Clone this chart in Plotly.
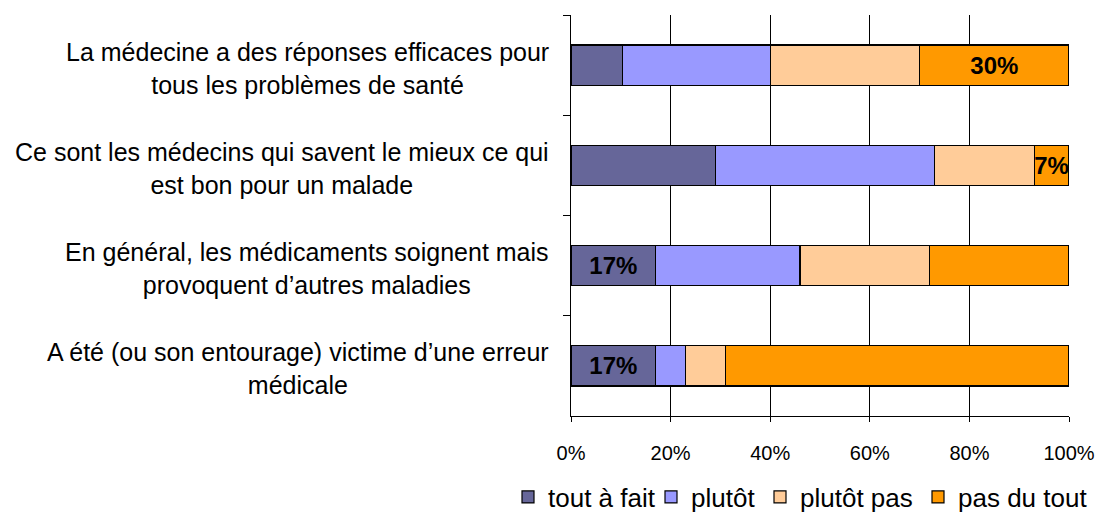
import plotly.graph_objects as go

# Statements (top to bottom)
statements = [
    "La médecine a des réponses efficaces pour<br>tous les problèmes de santé",
    "Ce sont les médecins qui savent le mieux ce qui<br>est bon pour un malade",
    "En général, les médicaments soignent mais<br>provoquent d’autres maladies",
    "A été (ou son entourage) victime d’une erreur<br>médicale",
]
keys = ["s1", "s2", "s3", "s4"]

# Answer shares (%) per statement
tout_a_fait = [10.3, 29, 17, 17]
plutot = [29.8, 44, 29, 6]
plutot_pas = [29.9, 20, 26, 8]
pas_du_tout = [30, 7, 28, 69]

series_names = ["tout à fait", "plutôt", "plutôt pas", "pas du tout"]
series_values = [tout_a_fait, plutot, plutot_pas, pas_du_tout]
series_colors = ["#666699", "#9999FF", "#FFCC99", "#FF9900"]
# Which segments carry a value label
labeled = [
    [False, False, True, True],
    [False, False, False, False],
    [False, False, False, False],
    [True, True, False, False],
]

x_ticks = [0, 20, 40, 60, 80, 100]
x_ticktext = [f"{t}%" for t in x_ticks]

FONT = "Liberation Sans, Arial, sans-serif"
W, H = 1097, 522

# Left edge (px) of each legend entry, one legend per series
legend_left = [508, 651, 760, 918]
legend_ids = ["legend", "legend2", "legend3", "legend4"]

fig = go.Figure()
for name, vals, color, show, lid in zip(series_names, series_values, series_colors, labeled, legend_ids):
    fig.add_trace(go.Bar(
        name=name,
        y=keys,
        x=vals,
        orientation="h",
        width=0.4,
        marker=dict(color=color, line=dict(color="black", width=1.2)),
        text=[f"{v:.0f}%" if s else "" for v, s in zip(vals, show)],
        textposition="inside",
        insidetextanchor="middle",
        constraintext="none",
        textangle=0,
        textfont=dict(family=FONT, size=24, color="black", weight="bold"),
        cliponaxis=False,
        hoverinfo="skip",
        legend=lid,
    ))

# Statement labels, centred line by line, left of the axis
for k, s in zip(keys, statements):
    fig.add_annotation(
        x=0, xref="paper", y=k, yref="y",
        text=s, showarrow=False,
        xanchor="right", yanchor="middle", align="center",
        xshift=-20, yshift=-3,
        font=dict(family=FONT, size=25, color="black"),
    )

legend_style = dict(
    orientation="h", xref="container", yref="container",
    xanchor="left", yanchor="middle", y=1 - 497 / H,
    font=dict(family=FONT, size=26, color="black"),
    itemwidth=30, bgcolor="rgba(0,0,0,0)", borderwidth=0,
)
legends = {}
for lid, left in zip(legend_ids, legend_left):
    legends[lid] = dict(legend_style, x=left / W)

fig.update_layout(
    barmode="stack",
    width=W, height=H,
    margin=dict(l=571, r=28, t=15, b=106, autoexpand=False),
    paper_bgcolor="white", plot_bgcolor="white",
    font=dict(family=FONT, color="black"),
    showlegend=True,
    xaxis=dict(
        range=[0, 100], tickmode="array", tickvals=x_ticks, ticktext=x_ticktext,
        ticks="outside", ticklen=5, tickcolor="black", tickwidth=1,
        showline=True, linecolor="black", linewidth=1,
        showgrid=True, gridcolor="black", gridwidth=1,
        zeroline=False, ticklabelstandoff=14,
        tickfont=dict(family=FONT, size=20, color="black"),
        fixedrange=True,
    ),
    yaxis=dict(
        type="category", categoryorder="array", categoryarray=keys,
        autorange="reversed",
        tickson="boundaries", ticks="outside", ticklen=7,
        tickcolor="black", tickwidth=1,
        showline=True, linecolor="black", linewidth=1,
        showticklabels=False, showgrid=False, zeroline=False,
        fixedrange=True,
    ),
    **legends,
)

fig.write_html("out.html")
